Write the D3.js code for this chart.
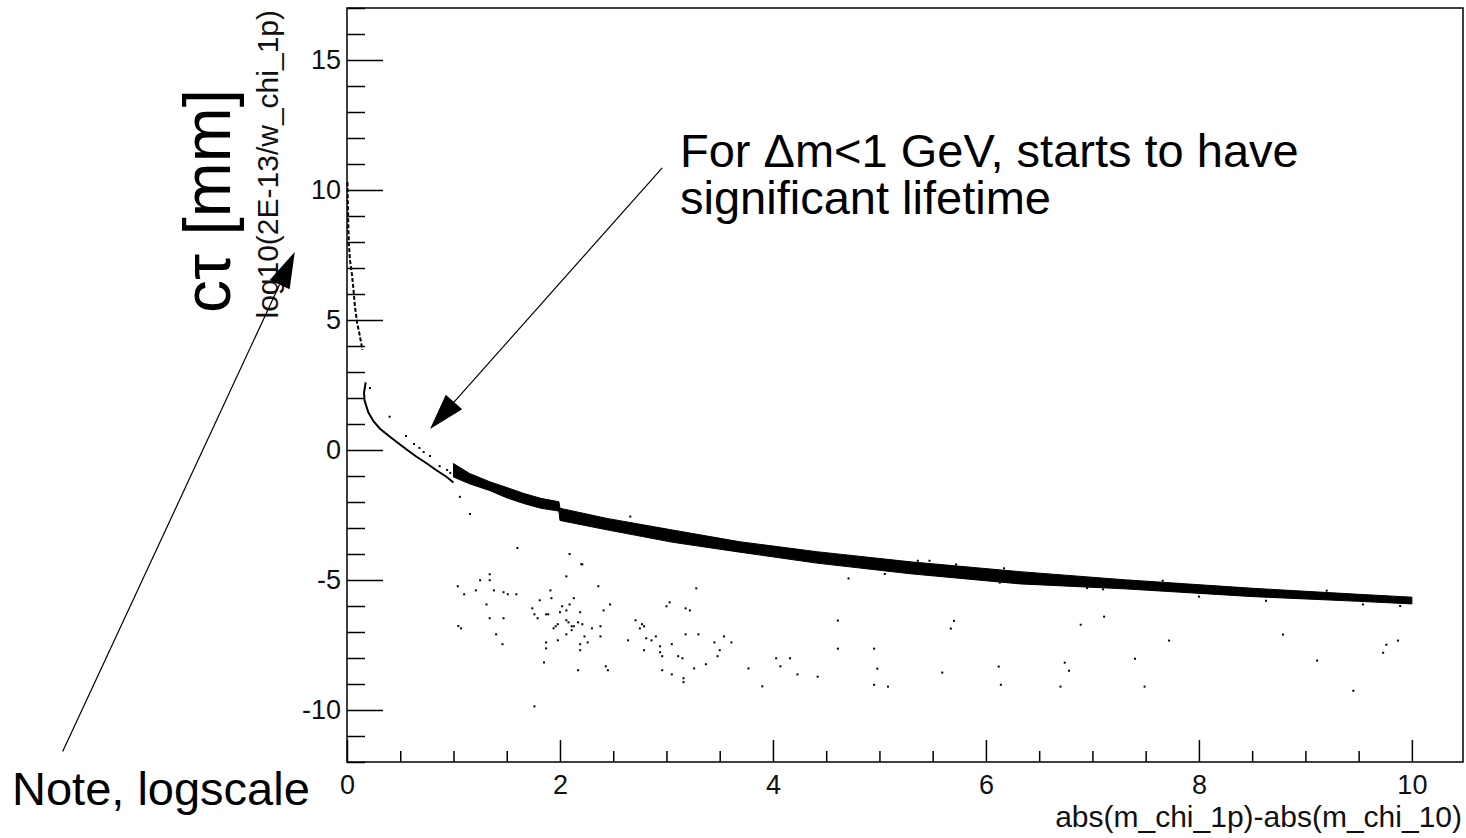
<!DOCTYPE html>
<html>
<head>
<meta charset="utf-8">
<script src="https://cdn.jsdelivr.net/npm/d3@7"></script>
<style>
  html, body { margin: 0; padding: 0; background: #fff; }
  svg { display: block; font-family: "Liberation Sans", Arial, Helvetica, sans-serif; }
  .axis text { fill: #111; }
</style>
</head>
<body>
<svg id="chart" width="1466" height="838"></svg>
<script>
// ---- data ----
const xMajorTicks = [0, 2, 4, 6, 8, 10];
const yMajorTicks = [-10, -5, 0, 5, 10, 15];

// steep branch right at dm ~ 0
const steepX = [0.005, 0.008, 0.012, 0.018, 0.028, 0.045, 0.06, 0.075, 0.095, 0.12, 0.145];
const steepY = [10.3, 9.5, 8.7, 7.9, 7.3, 6.8, 6.2, 5.5, 4.9, 4.4, 3.85];

// thin curve 0.16 < dm < 1
const thinX = [0.175, 0.16, 0.165, 0.2, 0.25, 0.31, 0.4, 0.47, 0.56, 0.65, 0.75, 0.84, 0.93, 1.0];
const thinY = [2.6, 2.2, 1.9, 1.45, 1.1, 0.82, 0.52, 0.3, 0.02, -0.25, -0.52, -0.78, -1.02, -1.25];

// thick band 1 < dm < 10 (upper / lower edge)
const bandX = [1.0, 1.15, 1.34, 1.5, 1.66, 1.82, 1.99, 2.0, 2.44, 3.06, 3.69, 4.41, 5.29, 6.32, 7.3, 8.51, 9.5, 10.0];
const bandTop = [-0.52, -0.9, -1.22, -1.44, -1.67, -1.86, -1.99, -2.24, -2.63, -3.08, -3.53, -3.91, -4.3, -4.68, -4.99, -5.32, -5.55, -5.66];
const bandLow = [-1.04, -1.3, -1.56, -1.84, -2.06, -2.24, -2.35, -2.71, -3.07, -3.55, -3.93, -4.35, -4.76, -5.15, -5.34, -5.64, -5.82, -5.92];

// isolated points
const dotX = [
  0.216, 0.40, 0.554, 0.63, 0.68, 0.72, 0.78, 0.87, 0.94, 0.97, 1.06, 1.155, 1.6, 2.09, 2.2, 2.66, 2.91,
  1.04, 1.10, 1.045, 1.07, 1.21, 1.25, 1.34, 1.34, 1.31, 1.34, 1.38, 1.40, 1.46, 1.47, 1.51, 1.47, 1.59,
  1.74, 1.76, 1.79, 1.81, 1.87, 1.89, 1.91, 1.92, 1.87, 1.87, 1.85, 1.76, 1.94, 1.96, 1.98, 1.98, 2.0,
  2.02, 2.06, 2.06, 2.06, 2.08, 2.06, 2.09, 2.11, 2.11, 2.13, 2.13, 2.17, 2.19, 2.21, 2.19, 2.19, 2.17,
  2.23, 2.21, 2.26, 2.30, 2.36, 2.38, 2.38, 2.41, 2.47, 2.43, 2.45, 2.64, 2.71, 2.75, 2.77, 2.79, 2.81,
  2.79, 2.86, 2.90, 2.94, 2.94, 2.96, 2.96, 3.0, 3.03, 3.05, 3.05, 3.11, 3.15, 3.16, 3.16, 3.18, 3.18,
  3.22, 3.28, 3.26, 3.30, 3.37, 3.45, 3.48, 3.50, 3.54, 3.61, 3.77, 3.90, 4.03, 4.07, 4.16, 4.23,
  4.42, 4.61, 4.61, 4.71, 4.95, 4.98, 4.95, 5.08, 5.59, 5.67, 5.70, 6.12, 6.14, 6.70, 6.74, 6.78, 6.89,
  7.11, 7.40, 7.49, 7.72, 8.79, 9.11, 9.45, 9.73, 9.76, 9.87,
  5.36, 5.47, 5.72, 6.17, 5.05, 6.13, 6.85, 7.10, 6.95, 7.66, 8.0, 8.63, 9.2, 9.54, 9.89
];
const dotY = [
  2.38, 1.28, 0.54, 0.23, 0.08, -0.08, -0.23, -0.62, -0.77, -0.88, -1.8, -2.46, -3.77, -4.0, -4.39, -2.56, -3.33,
  -5.24, -5.55, -6.77, -6.86, -5.40, -5.01, -4.78, -5.01, -5.94, -6.47, -5.40, -7.09, -7.47, -5.47, -5.55, -6.47, -5.55,
  -6.09, -6.32, -6.47, -5.78, -6.32, -6.32, -5.40, -5.70, -7.40, -7.63, -8.17, -9.86, -6.86, -6.78, -6.70, -7.32, -6.24,
  -6.01, -4.86, -6.17, -6.55, -6.63, -7.09, -5.94, -6.78, -6.93, -5.70, -6.78, -6.63, -6.24, -6.70, -7.47, -7.70, -8.47,
  -7.17, -4.40, -7.40, -6.86, -5.24, -6.78, -7.17, -6.17, -5.94, -8.32, -8.47, -7.32, -6.55, -6.86, -6.70, -6.78, -7.24,
  -7.70, -7.32, -7.17, -7.55, -7.78, -7.93, -8.47, -6.01, -5.86, -7.47, -8.63, -7.93, -8.01, -8.78, -8.93, -7.09, -6.09,
  -6.17, -5.32, -8.40, -7.09, -8.24, -7.40, -7.93, -7.70, -7.17, -7.40, -8.40, -9.09, -8.01, -8.32, -8.01, -8.63,
  -8.72, -6.56, -7.64, -4.94, -7.64, -8.41, -9.03, -9.10, -8.56, -6.87, -6.57, -8.33, -9.03, -9.10, -8.18, -8.49, -6.72,
  -6.41, -8.03, -9.10, -7.33, -7.10, -8.10, -9.26, -7.80, -7.49, -7.33,
  -4.26, -4.26, -4.40, -4.55, -4.77, -5.10, -5.13, -5.36, -5.31, -5.03, -5.64, -5.80, -5.41, -5.94, -6.0
];

// ---- layout ----
const svg = d3.select("#chart");
const frame = { left: 347, right: 1463, top: 8, bottom: 762 };

const x = d3.scaleLinear().domain([0, 10.48]).range([frame.left, frame.right]);
const y = d3.scaleLinear().domain([-12, 17]).range([frame.bottom, frame.top]);

// ROOT style labels: plain hyphen for negatives
const plain = d => String(d);

// axes, ticks pointing into the frame
const minorX = d3.range(0, 10.01, 0.5).filter(v => !xMajorTicks.includes(v));
const minorY = d3.range(-12, 17.01, 1).filter(v => !yMajorTicks.includes(v));

svg.append("g")
  .attr("class", "axis")
  .attr("transform", `translate(0,${frame.bottom})`)
  .call(d3.axisBottom(x).tickValues(minorX).tickSize(-11).tickFormat(""))
  .call(g => g.select(".domain").remove());

svg.append("g")
  .attr("class", "axis")
  .attr("transform", `translate(0,${frame.bottom})`)
  .call(d3.axisBottom(x).tickValues(xMajorTicks).tickSize(-22).tickPadding(13).tickFormat(plain))
  .call(g => g.select(".domain").remove())
  .call(g => g.selectAll("text").style("font-size", "27px"));

svg.append("g")
  .attr("class", "axis")
  .attr("transform", `translate(${frame.left},0)`)
  .call(d3.axisLeft(y).tickValues(minorY).tickSize(-18).tickFormat(""))
  .call(g => g.select(".domain").remove());

svg.append("g")
  .attr("class", "axis")
  .attr("transform", `translate(${frame.left},0)`)
  .call(d3.axisLeft(y).tickValues(yMajorTicks).tickSize(-36).tickPadding(6).tickFormat(plain))
  .call(g => g.select(".domain").remove())
  .call(g => g.selectAll("text").style("font-size", "27px"));

svg.selectAll(".axis line").attr("stroke", "#000").attr("stroke-width", 1.5);

svg.append("rect")
  .attr("x", frame.left)
  .attr("y", frame.top)
  .attr("width", frame.right - frame.left)
  .attr("height", frame.bottom - frame.top)
  .attr("fill", "none")
  .attr("stroke", "#000")
  .attr("stroke-width", 1.5);

// ---- marks ----
const band = bandX.map((d, i) => ({ x: d, top: bandTop[i], low: bandLow[i] }));

svg.append("path")
  .datum(band)
  .attr("fill", "#000")
  .attr("stroke", "#000")
  .attr("stroke-width", 1)
  .attr("d", d3.area()
    .x(d => x(d.x))
    .y0(d => y(d.low))
    .y1(d => y(d.top)));

const lineGen = d3.line().x(d => x(d[0])).y(d => y(d[1]));

svg.append("path")
  .datum(steepX.map((d, i) => [d, steepY[i]]))
  .attr("fill", "none")
  .attr("stroke", "#000")
  .attr("stroke-width", 2)
  .attr("stroke-dasharray", "4,2")
  .attr("d", lineGen);

svg.append("path")
  .datum(thinX.map((d, i) => [d, thinY[i]]))
  .attr("fill", "none")
  .attr("stroke", "#000")
  .attr("stroke-width", 2)
  .attr("d", lineGen);

svg.append("g")
  .selectAll("rect")
  .data(dotX.map((d, i) => [d, dotY[i]]))
  .join("rect")
  .attr("x", d => x(d[0]) - 1)
  .attr("y", d => y(d[1]) - 1)
  .attr("width", 2)
  .attr("height", 2)
  .attr("fill", "#000");

// ---- titles ----
svg.append("text")
  .attr("transform", "translate(1462,827)")
  .attr("text-anchor", "end")
  .style("font-size", "30px")
  .attr("fill", "#111")
  .text("abs(m_chi_1p)-abs(m_chi_10)");

svg.append("text")
  .attr("transform", "translate(278,10) rotate(-90)")
  .attr("text-anchor", "end")
  .style("font-size", "30px")
  .attr("fill", "#111")
  .text("log10(2E-13/w_chi_1p)");

svg.append("text")
  .attr("transform", "translate(230,313) rotate(-90)")
  .attr("text-anchor", "start")
  .style("font-size", "66px")
  .attr("fill", "#000")
  .text("cτ [mm]");

// ---- annotations ----
const note = svg.append("text").style("font-size", "47px").attr("fill", "#000");
note.append("tspan").attr("x", 680).attr("y", 167).text("For Δm<1 GeV, starts to have");
note.append("tspan").attr("x", 680).attr("y", 214).text("significant lifetime");

svg.append("text")
  .attr("x", 12).attr("y", 805)
  .style("font-size", "47px")
  .attr("fill", "#000")
  .text("Note, logscale");

// arrows: [tail x, tail y, tip x, tip y] in data units
const arrows = [
  [2.96, 10.85, 0.78, 0.81],
  [-2.67, -11.6, -0.49, 7.62]
];

arrows.forEach(a => {
  const x0 = x(a[0]), y0 = y(a[1]), x1 = x(a[2]), y1 = y(a[3]);
  const len = Math.hypot(x1 - x0, y1 - y0);
  const ux = (x1 - x0) / len, uy = (y1 - y0) / len;
  const headLen = 36, headHalf = 11;
  const bx = x1 - ux * headLen, by = y1 - uy * headLen;

  svg.append("line")
    .attr("x1", x0).attr("y1", y0)
    .attr("x2", bx).attr("y2", by)
    .attr("stroke", "#000")
    .attr("stroke-width", 1.2);

  svg.append("path")
    .attr("d", `M${x1},${y1}L${bx - uy * headHalf},${by + ux * headHalf}L${bx + uy * headHalf},${by - ux * headHalf}Z`)
    .attr("fill", "#000");
});
</script>
</body>
</html>
